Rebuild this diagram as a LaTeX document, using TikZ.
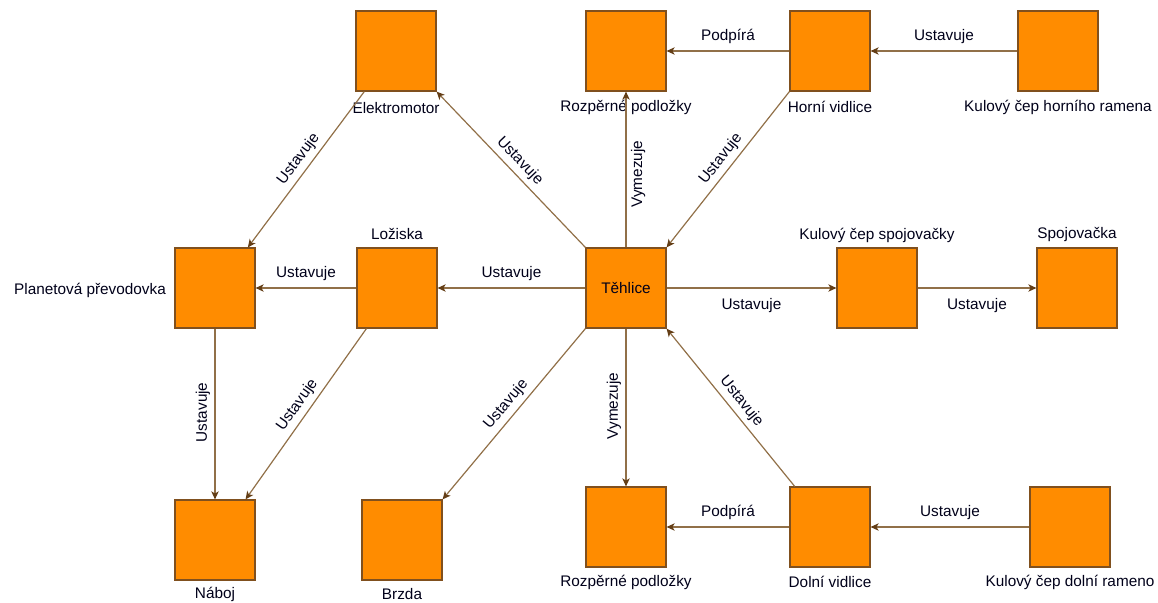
\documentclass[tikz,border=0pt]{standalone}
\usepackage{fontspec}
\setmainfont{Liberation Sans}
\usepackage{tikz}
\usetikzlibrary{arrows.meta}
\definecolor{partorange}{RGB}{255,140,0}
\definecolor{partbrown}{RGB}{128,80,30}
\definecolor{linkbrown}{RGB}{145,112,72}
\definecolor{tipbrown}{RGB}{100,62,22}

\begin{document}
\begin{tikzpicture}[x=0.75pt,y=-0.75pt,
    font=\fontsize{11.5}{13}\selectfont,
    part/.style={draw=partbrown,fill=partorange,line width=0.9pt,minimum size=60pt,inner sep=0pt},
    link/.style={draw=linkbrown,line width=0.9pt,-{Stealth[length=6pt,width=5.5pt,inset=1.6pt,color=tipbrown]}},
    uplabel/.style={pos=.49,rotate=90,anchor=south},
    every node/.append style={text=black!90!blue}]
    \useasboundingbox (0,0) rectangle (1158,603);
    % boxes
    \foreach \name/\x/\y in {elektro/396/51,rozphore/626/51,horni/830/51,kulhore/1058/51,
        planet/215/288,loziska/397/288,kulspoj/877/288,spoj/1077/288,
        naboj/215/540,brzda/402/540,rozpdole/626/527,dolni/830/527,kuldole/1070/527}
        {\node[part] (\name) at (\x,\y) {};}
    \node[part] (tehlice) at (626,288) {Těhlice};

    % names of the parts
    \node (elektro-t) at (396,108) {Elektromotor};
    \node (rozphore-t) at (626,107) {Rozpěrné podložky};
    \node (horni-t) at (830,107) {Horní vidlice};
    \node (kulhore-t) at (1058,107) {Kulový čep horního ramena};
    \node (planet-t) at (90,290) {Planetová převodovka};
    \node (loziska-t) at (397,234) {Ložiska};
    \node (kulspoj-t) at (877,235) {Kulový čep spojovačky};
    \node (spoj-t) at (1077,235) {Spojovačka};
    \node (naboj-t) at (215,594) {Náboj};
    \node (brzda-t) at (402,594) {Brzda};
    \node (rozpdole-t) at (626,582) {Rozpěrné podložky};
    \node (dolni-t) at (830,582) {Dolní vidlice};
    \node (kuldole-t) at (1070,582) {Kulový čep dolní rameno};

    % links
    \draw[link] (tehlice.north west) -- node[midway,sloped,above] {Ustavuje} (elektro.south east);
    \draw[link] (tehlice) -- node[pos=.47,sloped,below] {Vymezuje} (rozphore);
    \draw[link] (horni.south west) -- node[pos=.48,sloped,above] {Ustavuje} (tehlice.north east);
    \draw[link] (horni) -- node[above=2pt] {Podpírá} (rozphore);
    \draw[link] (kulhore) -- node[above=2pt] {Ustavuje} (horni);
    \draw[link] (elektro.-128) -- node[pos=.48,sloped,above] {Ustavuje} (planet.51);
    \draw[link] (loziska) -- node[above=2pt] {Ustavuje} (planet);
    \draw[link] (tehlice) -- node[above=2pt] {Ustavuje} (loziska);
    \draw[link] (tehlice) -- node[below=4pt] {Ustavuje} (kulspoj);
    \draw[link] (kulspoj) -- node[below=4pt] {Ustavuje} (spoj);
    \draw[link] (planet) -- node[uplabel] {Ustavuje} (naboj);
    \draw[link] (loziska.-127) -- node[pos=.49,sloped,above] {Ustavuje} (naboj.53);
    \draw[link] (tehlice.south west) -- node[pos=.49,sloped,above] {Ustavuje} (brzda.north east);
    \draw[link] (tehlice) -- node[uplabel] {Vymezuje} (rozpdole);
    \draw[link] (dolni.131) -- node[pos=.49,sloped,above] {Ustavuje} (tehlice.south east);
    \draw[link] (dolni) -- node[above=2pt] {Podpírá} (rozpdole);
    \draw[link] (kuldole) -- node[above=2pt] {Ustavuje} (dolni);
\end{tikzpicture}
\end{document}
